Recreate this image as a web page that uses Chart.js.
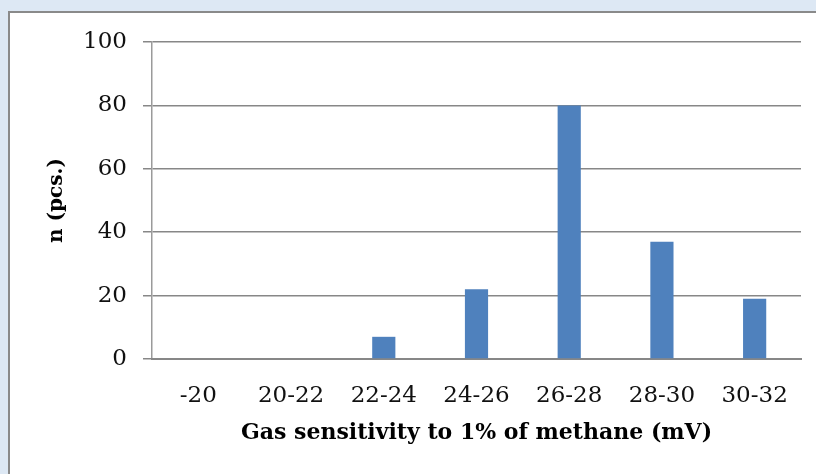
<!DOCTYPE html>
<html>
<head>
<meta charset="utf-8">
<script src="https://cdn.jsdelivr.net/npm/chart.js@4"></script>
<style>
  html, body { margin: 0; padding: 0; }
  body { width: 816px; height: 474px; background: #dde8f4; position: relative; overflow: hidden; }
  #panel { position: absolute; left: 8px; top: 11px; width: 830px; height: 480px; background: #fff; border: 2px solid #8a8a8a; }
  #wrap { position: absolute; left: 0; top: 0; width: 816px; height: 474px; }
</style>
</head>
<body>
<div id="panel"></div>
<div id="wrap"><canvas id="myChart"></canvas></div>
<script>
const categories = ['-20', '20-22', '22-24', '24-26', '26-28', '28-30', '30-32'];
const counts = [0, 0, 7, 22, 80, 37, 19];
const yTicks = [0, 20, 40, 60, 80, 100];

const fontFamily = '"DejaVu Serif", "Liberation Serif", serif';

const initChart = () => {
    const ctx = document.querySelector('#myChart');

    new Chart(ctx, {
        type: 'bar',
        data: {
            labels: categories,
            datasets: [
                {
                    label: 'n',
                    data: counts,
                    backgroundColor: '#4f81bd',
                    barPercentage: 0.25,
                    categoryPercentage: 1,
                },
            ],
        },
        options: {
            responsive: false,
            animation: false,
            layout: {
                padding: { left: 33, right: 15, top: 42, bottom: 0 }
            },
            scales: {
                y: {
                    min: 0,
                    max: 100,
                    afterBuildTicks: (scale) => {
                        scale.ticks = yTicks.map(v => ({ value: v }));
                    },
                    afterFit: (scale) => {
                        scale.width = 152 - 33;
                    },
                    grid: {
                        color: '#878787',
                        lineWidth: 1.5,
                        tickLength: 9,
                    },
                    border: { display: true, color: '#9a9a9a', width: 1.5 },
                    ticks: {
                        color: '#111',
                        padding: 16,
                        font: { family: fontFamily, size: 23 }
                    },
                    title: {
                        display: true,
                        text: 'n (pcs.)',
                        color: '#000',
                        padding: { top: 12, bottom: 0 },
                        font: { family: fontFamily, size: 20, weight: 'bold' }
                    }
                },
                x: {
                    afterFit: (scale) => {
                        scale.height = 474 - 359;
                    },
                    grid: { display: false },
                    border: { display: true, color: '#878787', width: 2 },
                    ticks: {
                        color: '#111',
                        padding: 15,
                        maxRotation: 0,
                        font: { family: fontFamily, size: 23 }
                    },
                    title: {
                        display: true,
                        text: 'Gas sensitivity to 1% of methane (mV)',
                        color: '#000',
                        padding: { top: 0, bottom: 28 },
                        font: { family: fontFamily, size: 22, weight: 'bold' }
                    }
                }
            },
            plugins: {
                legend: { display: false },
                tooltip: { enabled: false }
            }
        }
    });
};
document.querySelector('#myChart').width = 816;
document.querySelector('#myChart').height = 474;
initChart();
</script>
</body>
</html>
